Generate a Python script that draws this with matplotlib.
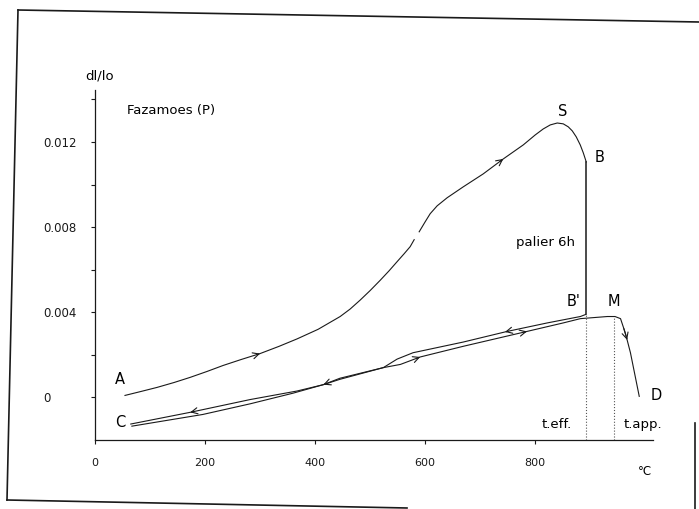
import numpy as np
import matplotlib
matplotlib.use('Agg')
import matplotlib.pyplot as plt
from matplotlib.lines import Line2D

plt.rcParams['font.family'] = ['DejaVu Sans']

# first heating A -> S -> B (the trace has a small gap near 585 C)
heat1_x = [54.5, 83.6, 112.7, 143.6, 172.7, 203.6, 232.7, 265.5, 300, 334.5,
           367.3, 405.5, 445.5, 463.6, 481.8, 500, 518.2, 534.5, 549.1, 561.8,
           572.7, 580]
heat1_y = [0.094, 0.28, 0.47, 0.70, 0.94, 1.22, 1.50, 1.78, 2.06, 2.40, 2.75,
           3.20, 3.80, 4.15, 4.57, 5.02, 5.50, 5.95, 6.38, 6.75, 7.08, 7.41]
heat2_x = [589.1, 600, 609.1, 621.8, 640, 669.1, 705.5, 741.8, 778.2, 800,
           814.5, 827.3, 840, 850.9, 860, 867.3, 874.5, 881.8, 887.3, 892.7]
heat2_y = [7.78, 8.25, 8.63, 9.00, 9.38, 9.89, 10.50, 11.20, 11.86, 12.33,
           12.61, 12.80, 12.89, 12.85, 12.71, 12.52, 12.24, 11.86, 11.49, 11.06]

# 6h hold B -> B'
hold_x = [892.7, 892.7]
hold_y = [11.06, 3.9]

# cooling B' -> C
cool_x = [65, 173, 282, 367, 415, 445, 524, 549, 578, 669, 749, 822, 882, 892]
cool_y = [-1.25, -0.7, -0.1, 0.3, 0.6, 0.9, 1.4, 1.8, 2.1, 2.6, 3.1, 3.5,
          3.8, 3.9]

# reheating C -> M -> D
reheat_x = [67, 196, 282, 360, 415, 445, 524, 555, 591, 669, 785, 851, 882,
            931, 945, 955, 964, 973, 989]
reheat_y = [-1.35, -0.8, -0.3, 0.2, 0.6, 0.85, 1.4, 1.55, 1.9, 2.4, 3.1, 3.5,
            3.7, 3.8, 3.8, 3.7, 3.0, 2.1, 0.05]

scale = 1e-3  # values above are read in units of 0.001

# arrow positions along each branch (temperature)
heat_arrows = [300, 742]
cool_arrows = [745, 415, 173]
reheat_arrows = [591, 785, 967]

t_eff = 892.7
t_app = 944

x_ticks = [0, 200, 400, 600, 800]
y_ticks = [0, 0.002, 0.004, 0.006, 0.008, 0.010, 0.012, 0.014]
y_ticklabels = ['0', '', '0.004', '', '0.008', '', '0.012', '']

W, H = 699, 509
fig = plt.figure(figsize=(W / 100, H / 100), dpi=100)
ax = fig.add_axes([95 / W, 1 - 440 / H, (653 - 95) / W, (440 - 90) / H])

lc = '#1a1a1a'
lw = 0.8
h1y = np.array(heat1_y) * scale
h2y = np.array(heat2_y) * scale
cy = np.array(cool_y) * scale
ry = np.array(reheat_y) * scale
heat_x = heat1_x + heat2_x
heat_y = np.concatenate([h1y, h2y])

ax.plot(heat1_x, h1y, color=lc, lw=lw)
ax.plot(heat2_x, h2y, color=lc, lw=lw)
ax.plot(hold_x, np.array(hold_y) * scale, color=lc, lw=1.1)
ax.plot(cool_x, cy, color=lc, lw=lw)
ax.plot(reheat_x, ry, color=lc, lw=lw)

ax.vlines([t_eff, t_app], -0.002, [hold_y[1] * scale, reheat_y[13] * scale],
          colors='#555555', linestyles=':', lw=0.8)


def arrow_on(xs, ys, x, direction):
    dx = 6 * direction
    x0, x1 = x - dx, x
    y0, y1 = np.interp(x0, xs, ys), np.interp(x1, xs, ys)
    ax.annotate('', xy=(x1, y1), xytext=(x0, y0),
                arrowprops=dict(arrowstyle='->', color=lc, lw=0.8,
                                mutation_scale=11, shrinkA=0, shrinkB=0))


for x in heat_arrows:
    arrow_on(heat_x, heat_y, x, 1)
for x in cool_arrows:
    arrow_on(cool_x, cy, x, -1)
for x in reheat_arrows:
    arrow_on(reheat_x, ry, x, 1)

ax.set_xlim(0, 1014)
ax.set_ylim(-0.002, 0.01444)
for side in ['top', 'right']:
    ax.spines[side].set_visible(False)
for side in ['left', 'bottom']:
    ax.spines[side].set_linewidth(0.9)
    ax.spines[side].set_color(lc)

ax.set_xticks(x_ticks)
ax.set_xticklabels([str(v) for v in x_ticks])
ax.set_yticks(y_ticks)
ax.set_yticklabels(y_ticklabels)
ax.tick_params(axis='x', direction='out', length=3, width=0.8, pad=10,
               labelsize=8, colors=lc)
ax.tick_params(axis='y', direction='out', length=3, width=0.8, pad=34.5,
               labelsize=8.5, colors=lc)
for lab in ax.get_yticklabels():
    lab.set_horizontalalignment('left')

fs = 9.5
fl = 10.5
ax.text(9, 0.0151, 'dl/lo', fontsize=fs, ha='center', va='center')
ax.text(58, 0.0135, 'Fazamoes (P)', fontsize=fs, ha='left', va='center')
ax.text(45, 0.00084, 'A', fontsize=fl, ha='center', va='center')
ax.text(45, -0.0012, 'C', fontsize=fl, ha='center', va='center')
ax.text(849, 0.01345, 'S', fontsize=fl, ha='center', va='center')
ax.text(916, 0.01125, 'B', fontsize=fl, ha='center', va='center')
ax.text(818, 0.0073, 'palier 6h', fontsize=fs, ha='center', va='center')
ax.text(869, 0.0045, "B'", fontsize=fl, ha='center', va='center')
ax.text(942, 0.0045, 'M', fontsize=fl, ha='center', va='center')
ax.text(1020, 0.0001, 'D', fontsize=fl, ha='center', va='center')
ax.text(840, -0.00127, 't.eff.', fontsize=fs, ha='center', va='center')
ax.text(996, -0.00127, 't.app.', fontsize=fs, ha='center', va='center')
ax.text(1000, -0.00347, '°C', fontsize=8.5, ha='center', va='center')

# scanned page frame
frame = [([18, 699], [10, 22]), ([18, 7], [10, 500]),
         ([7, 407], [500, 508]), ([695, 695], [423, 509])]
for fx, fy in frame:
    fig.add_artist(Line2D(np.array(fx) / W, 1 - np.array(fy) / H,
                          transform=fig.transFigure, color=lc, lw=1.2))

fig.savefig('out.png', dpi=100)
